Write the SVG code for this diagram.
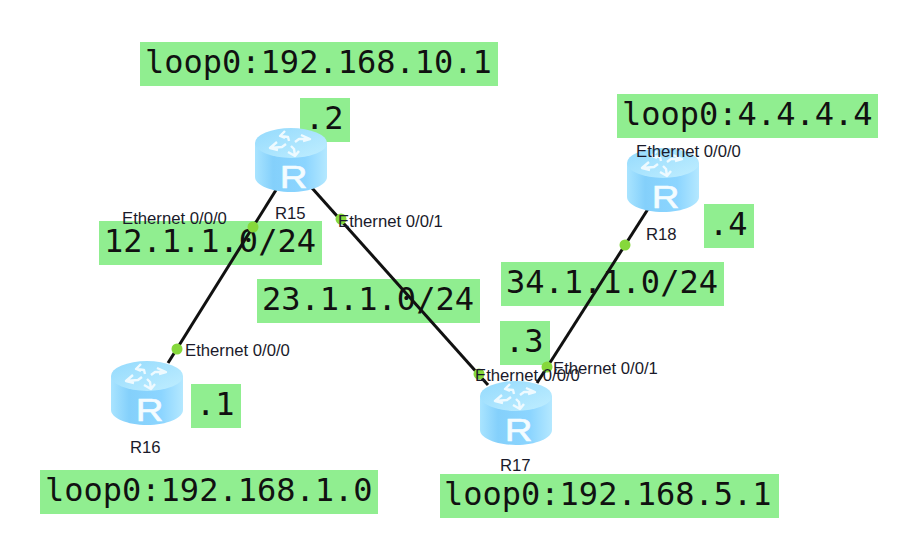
<svg xmlns="http://www.w3.org/2000/svg" width="903" height="543" viewBox="0 0 903 543">
  <style>
    .band { fill: #90ee90; }
    .addr { font-family: "DejaVu Sans Mono", monospace; font-size: 32px; fill: #111; }
    .small { font-family: "Liberation Sans", Arial, sans-serif; font-size: 16.7px; fill: #1a1a2a; }
    .link { stroke: #111; stroke-width: 3; fill: none; }
    .port { fill: #86d83c; }
  </style>
  <defs>
    <linearGradient id="bodyFill" x1="0" x2="1" y1="0" y2="0">
      <stop offset="0" stop-color="#a9e4ff"/>
      <stop offset="0.25" stop-color="#84d0fb"/>
      <stop offset="0.7" stop-color="#8cd5ff"/>
      <stop offset="1" stop-color="#b4e8ff"/>
    </linearGradient>
    <linearGradient id="topFill" x1="0" x2="1" y1="0" y2="1">
      <stop offset="0" stop-color="#94dafd"/>
      <stop offset="1" stop-color="#c0eeff"/>
    </linearGradient>
    <g id="router">
      <path d="M0 15V49C0 57 16 64 36 64S72 57 72 49V15Z" fill="url(#bodyFill)"/>
      <ellipse cx="36" cy="15" rx="36" ry="15" fill="url(#topFill)"/>
      <g fill="none" stroke="#eefaff" stroke-width="2.4" stroke-linejoin="round">
        <path d="M30 3 L25 8 L30 10 M25 8 L33 9 L34 13"/>
        <path d="M46 7 L55 11 L48 13 M55 11 L44 11 L40 14"/>
        <path d="M22 14 L15 20 L23 22 M15 20 L27 19 L31 16"/>
        <path d="M33 24 L40 28 L44 23 M40 28 L39 21 L36 18"/>
      </g>
      <text transform="translate(38.5 60) scale(1.2 1)" text-anchor="middle" font-family="Liberation Sans, Arial, sans-serif" font-size="32" fill="#f4fcff" stroke="#f4fcff" stroke-width="0.6">R</text>
    </g>
  </defs>

  <g id="address-bands">
    <rect class="band" x="140" y="42" width="358" height="44"/>
    <text class="addr" x="145" y="73">loop0:192.168.10.1</text>
    <rect class="band" x="300" y="98" width="50" height="44"/>
    <text class="addr" x="305" y="129">.2</text>
    <rect class="band" x="99" y="221" width="223" height="44"/>
    <text class="addr" x="104" y="252">12.1.1.0/24</text>
    <rect class="band" x="257" y="279" width="223" height="44"/>
    <text class="addr" x="262" y="310">23.1.1.0/24</text>
    <rect class="band" x="501" y="262" width="223" height="44"/>
    <text class="addr" x="506" y="293">34.1.1.0/24</text>
    <rect class="band" x="500" y="321" width="50" height="44"/>
    <text class="addr" x="505" y="352">.3</text>
    <rect class="band" x="704" y="204" width="50" height="44"/>
    <text class="addr" x="709" y="235">.4</text>
    <rect class="band" x="191" y="384" width="50" height="44"/>
    <text class="addr" x="196" y="415">.1</text>
    <rect class="band" x="617" y="94" width="261" height="44"/>
    <text class="addr" x="622" y="125">loop0:4.4.4.4</text>
    <rect class="band" x="40" y="470" width="338" height="44"/>
    <text class="addr" x="45" y="501">loop0:192.168.1.0</text>
    <rect class="band" x="440" y="474" width="339" height="44"/>
    <text class="addr" x="444" y="505">loop0:192.168.5.1</text>
  </g>

  <g id="connectors">
    <line class="link" x1="276" y1="190" x2="168" y2="363"/>
    <line class="link" x1="312" y1="188" x2="488" y2="385"/>
    <line class="link" x1="648" y1="209" x2="537" y2="383"/>
    <circle class="port" cx="253" cy="227" r="5.5"/>
    <circle class="port" cx="177" cy="349" r="5.5"/>
    <circle class="port" cx="341" cy="219" r="5.5"/>
    <circle class="port" cx="479" cy="374" r="5.5"/>
    <circle class="port" cx="547" cy="367" r="5.5"/>
    <circle class="port" cx="625" cy="245" r="5.5"/>
  </g>

  <g id="R15">
    <use href="#router" x="255" y="128"/>
    <text class="small" x="275" y="219">R15</text>
    <text class="small" x="122" y="224">Ethernet 0/0/0</text>
    <text class="small" x="338" y="227">Ethernet 0/0/1</text>
  </g>
  <g id="R16">
    <use href="#router" x="111" y="361"/>
    <text class="small" x="130" y="453">R16</text>
    <text class="small" x="185" y="356">Ethernet 0/0/0</text>
  </g>
  <g id="R17">
    <use href="#router" x="480" y="381"/>
    <text class="small" x="500" y="471">R17</text>
    <text class="small" x="475" y="381">Ethernet 0/0/0</text>
    <text class="small" x="553" y="374">Ethernet 0/0/1</text>
  </g>
  <g id="R18">
    <use href="#router" x="627" y="148"/>
    <text class="small" x="646" y="240">R18</text>
    <text class="small" x="636" y="157">Ethernet 0/0/0</text>
  </g>
</svg>
